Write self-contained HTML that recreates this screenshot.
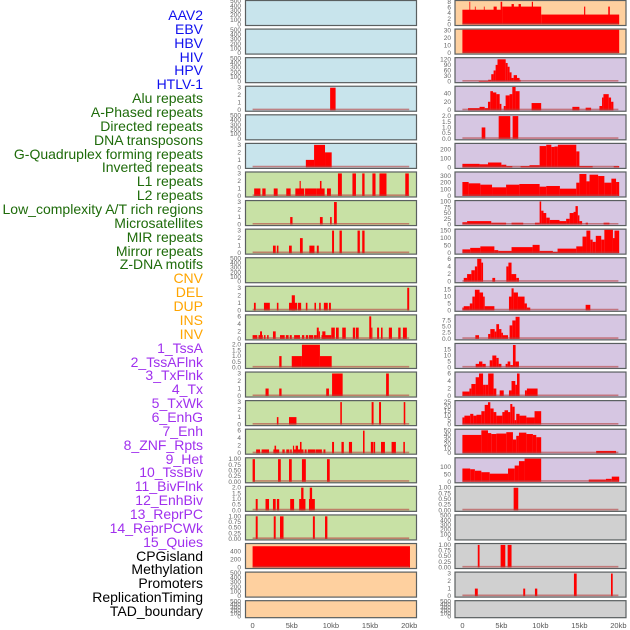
<!DOCTYPE html>
<html><head><meta charset="utf-8">
<style>
html,body{margin:0;padding:0;background:#fff;width:630px;height:630px;overflow:hidden}
#labels{position:absolute;left:0;top:0;width:203px;height:630px}
.lab{position:absolute;right:0;font:14px "Liberation Sans",sans-serif;white-space:nowrap;line-height:14px}
svg{position:absolute;left:0;top:0}
</style></head><body>
<div id="labels"></div>
<svg id="chart" width="630" height="630"></svg>
<script>
// ---------- label data ----------
const labelNames = ["AAV2","EBV","HBV","HIV","HPV","HTLV-1","Alu repeats","A-Phased repeats","Directed repeats","DNA transposons","G-Quadruplex forming repeats","Inverted repeats","L1 repeats","L2 repeats","Low_complexity A/T rich regions","Microsatellites","MIR repeats","Mirror repeats","Z-DNA motifs","CNV","DEL","DUP","INS","INV","1_TssA","2_TssAFlnk","3_TxFlnk","4_Tx","5_TxWk","6_EnhG","7_Enh","8_ZNF_Rpts","9_Het","10_TssBiv","11_BivFlnk","12_EnhBiv","13_ReprPC","14_ReprPCWk","15_Quies","CPGisland","Methylation","Promoters","ReplicationTiming","TAD_boundary"];
const labelGroupSizes = [6,13,5,15,5];
const labelColors = ["#1010ee","#1e6b0a","#ffa500","#a030ee","#000000"];

// ---------- panel backgrounds ----------
const leftBg  = ["b","b","b","b","b","b","g","g","g","g","g","g","g","g","g","g","g","g","g","o","o","o"];
const rightBg = ["o","o","p","p","p","p","p","p","p","p","p","p","p","p","p","p","p","y","y","y","y","y"];

// ---------- y axis (max, tick labels) ----------
const T500=[0,100,200,300,400,500], T3=[0,1,2,3], T2=["0.0","0.5","1.0","1.5","2.0"], T1=["0.00","0.25","0.50","0.75","1.00"], T6=[0,2,4,6];
const leftYMax  = [500,500,500,3.1,500,3.1,3.1,3.1,3.1,500,3.1,6.2,2.05,3.1,3.1,6.2,1.03,2.05,1.03,580,500,500];
const leftTicks = [T500,T500,T500,T3,T500,T3,T3,T3,T3,T500,T3,T6,T2,T3,T3,T6,T1,T2,T1,[0,200,400],T500,T500];
const rightYMax  = [8.2,31,125,55,2.05,262,350,101,155,6.1,17,9.5,19.5,6.2,26,51,158,1.03,500,1.03,3.1,500];
const rightTicks = [[0,2,4,6,8],[0,10,20,30],[0,30,60,90,120],[0,20,40],T2,[0,100,200],[0,100,200,300],[0,25,50,75,100],[0,50,100,150],T6,[0,5,10,15],["0.0","2.5","5.0","7.5"],[0,5,10,15],T6,[0,5,10,15,20,25],[0,10,20,30,40,50],[0,50,100],T1,T500,T1,T3,T500];

// ---------- series: [startKb, endKb, value] ----------
const L04=[[9.9,10.6,3]];
const L06=[[6.8,7.85,1],[7.85,9.25,3],[9.25,10.1,2]];
const L07=[[0.2,1.0,1],[1.24,1.66,1],[2.7,3.2,1],[4.3,4.86,1],[5.46,6.6,1],[6.0,6.15,2],[6.7,8.2,1],[8.2,9.2,1],[8.6,8.8,2],[9.5,10.0,1],[10.9,11.4,3],[12.75,13.2,3],[14.0,14.3,3],[15.3,15.7,3],[16.2,17.1,3],[19.5,19.95,3]];
const L08=[[4.8,5.1,1],[8.6,8.95,1],[9.9,10.1,1],[10.4,10.75,3]];
const L09=[[2.6,2.95,1],[3.1,3.3,1],[4.65,5.0,1],[6.05,6.4,2],[7.25,7.9,1],[8.2,8.45,1],[10.15,10.4,3],[11.1,11.4,3],[13.4,13.7,3],[14.0,14.3,3]];
const L11=[[0.17,0.4,1],[1.45,2.2,1],[3.1,3.3,1],[4.65,5.7,1],[5.0,5.4,2],[5.8,6.2,1],[6.8,7.0,1],[7.9,8.1,1],[8.5,8.7,1],[9.1,9.6,1],[9.75,10.0,1],[19.75,20.0,3]];
const L12=[[0,0.6,1],[0.75,1.3,1],[0.95,1.2,2],[1.45,1.65,1],[1.85,2.05,1],[2.6,2.95,2],[3.5,4.1,1],[4.25,4.6,1],[4.75,5.0,1],[5.3,6.05,1],[6.3,6.6,1],[6.8,7.1,1],[7.2,7.75,1],[7.85,8.2,1],[8.2,8.45,3],[8.45,8.6,2],[8.8,10.05,1],[8.9,9.3,2],[10.05,10.5,3],[10.65,11.0,3],[11.45,11.9,3],[12.8,13.1,3],[13.2,13.55,3],[14.9,15.15,6],[15.15,15.3,3],[15.9,16.15,3],[16.4,16.6,3],[17.4,17.8,3],[18.6,18.9,3],[19.2,19.7,3]];
const L13=[[3.4,3.7,1],[5.0,6.3,1],[6.3,8.6,2],[8.6,10.1,1]];
const L14=[[1.65,2.05,1],[3.4,3.7,1],[9.4,9.75,1],[10.15,11.5,3],[17.05,17.4,3]];
const L15=[[3.1,3.3,1],[4.65,5.6,1],[11.2,11.4,3],[15.2,15.45,3],[16.15,16.4,3],[19.3,19.5,3]];
const L16=[[0.45,0.95,1],[1.15,2.1,1],[2.65,3.4,1],[2.8,3.0,2],[3.8,4.1,1],[4.3,4.7,1],[4.8,5.0,1],[5.15,6.5,1],[5.15,5.3,2],[5.5,5.8,2],[6.05,6.25,3],[6.65,6.9,1],[7.05,8.0,1],[8.05,8.85,1],[9.05,9.3,1],[10.15,10.4,3],[11.35,11.65,3],[12.3,12.7,3],[14.1,14.3,6],[15.1,15.4,3],[15.45,15.65,3],[16.4,16.9,3],[17.75,18.3,3],[19.25,19.45,3]];
const L17=[[0,0.3,1],[3.25,3.6,1],[4.65,5.0,1],[6.3,6.8,1],[9.5,9.85,1]];
const L18=[[0.4,0.65,1],[1.65,2.1,1],[2.6,2.95,1],[3.1,3.4,1],[4.8,5.3,1],[5.95,6.75,1],[6.2,6.5,2],[7.2,7.95,1],[7.3,7.6,2]];
const L19=[[0.4,0.65,1],[2.7,2.95,1],[3.5,3.95,1],[7.7,7.95,1],[9.25,9.55,1]];
const L20=[[0,20.1,530]];
const R01=[[0,5.1,5.2],[0.9,1.0,8],[1.6,1.7,6.3],[2.75,2.85,6.3],[4.0,4.4,6.3],[4.9,5.1,8],[5.1,10.1,6.3],[6.3,6.6,7.2],[7.2,7.5,7.2],[8.9,9.05,8],[10.1,20.1,3.5],[15.6,15.75,6.3],[18.7,18.9,6.3]];
const R02=[[0,20.1,31]];
const R03=[[2.1,3.3,4],[3.3,3.7,10],[3.7,4.0,40],[4.0,4.26,60],[4.26,4.5,90],[4.5,5.55,120],[5.55,5.8,100],[5.8,6.05,80],[6.05,6.3,50],[6.3,6.57,20],[6.57,7.0,35],[7.0,7.33,20],[7.33,7.46,10]];
const R04=[[0.72,2.2,5],[2.2,2.86,8],[2.86,3.28,5],[3.28,3.58,20],[3.58,3.92,45],[3.92,4.35,42],[4.35,4.78,38],[4.78,5.0,15],[5.3,5.54,10],[5.54,6.05,35],[6.05,6.4,38],[6.4,6.82,55],[6.82,7.33,45],[8.87,10.1,17],[14.1,15.0,8],[15.8,16.5,6],[17.57,17.9,10],[17.9,18.08,30],[18.08,18.76,38],[18.76,19.06,30],[19.06,19.36,20]];
const R05=[[2.47,2.94,1],[4.65,6.14,2],[6.44,7.16,2]];
const R06=[[0,2.2,40],[2.2,3.28,35],[3.28,5.0,55],[5.0,5.63,30],[5.63,6.4,15],[7.46,8.6,15],[8.6,9.9,25],[9.9,10.75,240],[10.75,11.4,255],[11.4,11.8,230],[11.8,12.24,235],[12.24,14.6,255],[14.6,15.0,180],[15.0,16.7,15],[19.4,20.1,15]];
const R07=[[0,0.8,210],[0.8,2.3,190],[2.3,3.8,170],[3.8,5.6,130],[5.6,7.3,170],[7.3,9.9,180],[9.9,10.75,140],[10.75,12.5,150],[12.5,14.6,110],[14.6,15.0,200],[15.0,15.9,330],[15.9,16.3,220],[16.3,17.4,320],[17.4,18.2,300],[18.2,19.1,200],[19.1,19.7,260],[19.7,20.1,210]];
const R08=[[0,0.6,10],[0.6,3.7,15],[3.7,5.6,8],[6.3,7.8,8],[9.3,9.9,8],[9.9,10.1,100],[10.1,10.4,60],[10.4,10.75,50],[10.75,11.2,30],[11.2,12.45,20],[12.45,13.3,15],[13.3,13.75,25],[13.75,14.25,50],[14.25,14.5,55],[14.5,14.8,80],[14.8,15.0,40],[15.0,15.35,15],[15.8,16.1,8],[18.1,18.85,8]];
const R09=[[0,1.0,25],[1.0,2.3,35],[2.3,4.1,45],[4.1,4.6,20],[4.6,6.3,15],[6.3,9.0,40],[9.0,9.9,55],[9.9,11.6,15],[11.6,12.2,8],[12.2,14.6,30],[14.6,15.4,45],[15.4,15.9,110],[15.9,16.4,150],[16.4,16.7,90],[16.7,17.1,75],[17.1,17.8,115],[17.8,18.2,90],[18.2,19.3,155],[19.3,19.5,100],[19.5,20.1,150]];
const R10=[[0.17,0.6,1],[0.6,1.15,2],[1.15,1.6,3],[1.6,1.9,4],[1.9,2.43,6],[2.43,2.65,5],[3.84,4.2,1],[5.63,5.9,4],[5.9,6.3,5],[6.3,6.9,2],[6.9,7.25,1]];
const R11=[[0,0.17,2],[0.17,0.95,3],[0.95,1.28,5],[1.28,1.6,10],[1.6,2.2,15],[2.2,2.65,13],[2.65,2.86,10],[2.86,4.1,3],[5.97,6.3,10],[6.3,6.57,16],[6.57,7.12,13],[7.12,7.97,10],[7.97,8.27,5],[8.27,8.7,2],[15.8,16.4,4]];
const R12=[[1.66,2.13,1.5],[3.3,3.58,2],[3.58,4.14,4],[4.14,4.35,3],[4.35,4.7,6],[4.7,5.0,4],[5.0,5.2,2.5],[5.2,5.85,1.5],[6.05,6.4,5.5],[6.4,6.82,7.5],[6.82,7.33,9]];
const R13=[[1.7,2.13,3],[2.13,2.56,5],[2.56,2.99,3],[3.5,3.84,6],[3.84,4.35,10],[4.35,4.65,8],[4.65,5.0,3],[5.54,5.8,3],[5.8,6.14,5],[6.14,6.48,2],[6.48,6.82,18.8],[6.82,7.25,5]];
const R14=[[0,0.9,1.2],[0.9,1.15,2],[1.15,1.7,3.2],[1.7,2.13,5],[2.13,2.65,6],[2.65,2.99,3],[2.99,3.3,3],[3.3,4.0,6],[4.0,4.35,2],[4.78,5.3,1.5],[5.97,6.3,1.5],[6.3,6.78,4],[6.78,7.0,3],[7.0,7.33,6],[8.02,8.27,1.5],[8.27,9.64,2]];
const R15=[[0,0.26,8],[0.26,1.0,10],[1.0,1.4,12],[1.4,1.8,10],[1.8,2.43,11],[2.43,2.86,15],[2.86,3.28,22],[3.28,3.58,25],[3.58,4.0,18],[4.0,4.35,14],[4.35,5.12,10],[5.12,5.4,14],[5.4,5.85,16],[5.85,6.14,14],[6.14,6.4,23],[6.4,6.7,20],[6.7,6.9,5],[6.9,7.33,12],[7.33,8.2,10],[8.2,9.25,8],[9.25,10.1,15]];
const R16=[[0,2.43,40],[2.43,3.28,50],[3.28,3.7,44],[3.7,4.35,42],[4.35,5.63,43],[5.63,6.48,46],[6.48,6.9,30],[6.9,7.25,38],[7.25,8.2,45],[8.2,9.04,42],[9.04,9.47,40],[9.47,10.1,35],[17.15,19.7,5]];
const R17=[[0,1.0,90],[1.0,1.6,85],[1.6,2.43,75],[2.43,3.5,65],[3.5,5.85,55],[5.85,6.7,90],[6.7,7.25,110],[7.25,7.97,140],[7.97,10.1,157],[16.2,18.4,15],[18.4,19.15,20],[19.15,20.1,35]];
const R18=[[6.57,7.16,1]];
const R20=[[1.97,2.2,1],[4.9,5.5,1],[5.8,6.3,1]];
const R21=[[1.6,1.97,1],[7.8,8.05,1],[9.3,9.6,1],[14.3,14.65,3],[19.05,19.27,3]];
const leftSeries  = [null,null,null,L04,null,L06,L07,L08,L09,null,L11,L12,L13,L14,L15,L16,L17,L18,L19,L20,null,null];
const rightSeries = [R01,R02,R03,R04,R05,R06,R07,R08,R09,R10,R11,R12,R13,R14,R15,R16,R17,R18,null,R20,R21,null];
const xTickValues = [0,5,10,15,20];
const xTickLabels = ["0","5kb","10kb","15kb","20kb"];

// ---------- drawing ----------
const NS="http://www.w3.org/2000/svg";
const svg=document.getElementById('chart');
const bgColor={b:"#c8e4ec",g:"#c8e1a5",o:"#fed09f",p:"#d6c6e2",y:"#d0d0d0"};
const cols=[{x:245.5,w:171,x0:252.6,k:7.83,tx:241},{x:455,w:171,x0:462.4,k:7.8,tx:451}];
function rowTop(i){return i*28.58;}
function rowH(i){return i===21?17:25;}
function mk(tag,attrs,parent){const e=document.createElementNS(NS,tag);for(const a in attrs)e.setAttribute(a,attrs[a]);(parent||svg).appendChild(e);return e;}

// labels
const labDiv=document.getElementById('labels');
let li=0;
labelGroupSizes.forEach((n,g)=>{for(let j=0;j<n;j++){const d=document.createElement('div');d.className='lab';d.style.color=labelColors[g];d.style.top=(8+li*13.86)+'px';d.textContent=labelNames[li];


labDiv.appendChild(d);li++;}});

function drawPanel(ci,i,bgKey,ymax,ticks,series){
  const c=cols[ci],top=rowTop(i),h=rowH(i);
  const g=mk('g',{});
  
  
  const rect=mk('rect',{x:c.x,y:top+0.5,width:c.w,height:h,fill:bgColor[bgKey],stroke:"#5a5f60","stroke-width":1.2},g);
  
  
  const y0=top+h-0.5, y1=top+1.2;
  const yS=v=>y0-(parseFloat(v)/ymax)*(y0-y1);
  const xS=kb=>c.x0+kb*c.k;
  ticks.forEach(t=>{const tt=mk('text',{x:c.tx,y:yS(t)+2,"text-anchor":"end","font-size":"6.5","font-family":"Liberation Sans, sans-serif",fill:"#666"},g);tt.textContent=String(t);
    
    });
  if(series){
    series.forEach(s=>{const b=mk('rect',{x:xS(s[0]),y:yS(s[2]),width:Math.max(0.8,xS(s[1])-xS(s[0])),height:y0-yS(s[2]),fill:"#ff0000"},g);
      
      });
    const bl=mk('line',{x1:xS(0),x2:xS(20),y1:y0-0.8,y2:y0-0.8,stroke:"#b84040","stroke-width":1.6,opacity:0.6},g);
    
    
  }
}
for(let i=0;i<22;i++){
  drawPanel(0,i,leftBg[i],leftYMax[i],leftTicks[i],leftSeries[i]);
  drawPanel(1,i,rightBg[i],rightYMax[i],rightTicks[i],rightSeries[i]);
}
// x axes
cols.forEach((c,ci)=>{xTickValues.forEach((v,k)=>{const t=mk('text',{x:c.x0+v*c.k,y:628,"text-anchor":"middle","font-size":"7.5","font-family":"Liberation Sans, sans-serif",fill:"#555"});t.textContent=xTickLabels[k];
  
  });});
</script>
</body></html>
